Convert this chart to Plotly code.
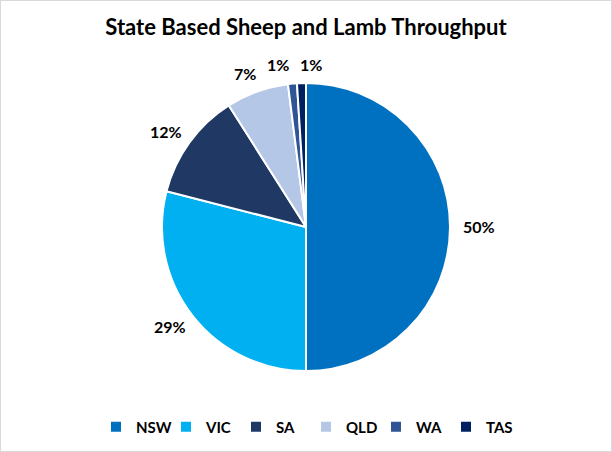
import math
import plotly.graph_objects as go

states = ["NSW", "VIC", "SA", "QLD", "WA", "TAS"]
shares = [50, 29, 12, 7, 1, 1]
colors = ["#0070C0", "#00B0F0", "#1F3864", "#B4C7E7", "#2F5597", "#002060"]

W, H = 612, 452
cx, cy, r = 306, 227, 144
FONT = "Lato, Open Sans, sans-serif"
LABEL_SIZE = 16

fig = go.Figure(go.Pie(
    labels=states,
    values=shares,
    sort=False,
    direction="clockwise",
    rotation=0,
    marker=dict(colors=colors, line=dict(color="white", width=2)),
    textinfo="none",
    domain=dict(x=[(cx - r) / W, (cx + r) / W], y=[1 - (cy + r) / H, 1 - (cy - r) / H]),
    hoverinfo="label+percent",
    showlegend=True,
))

# data labels placed outside each slice at its mid-angle (Excel "best fit" style)
total = sum(shares)
labels = []
cum = 0
for v in shares:
    theta = 2 * math.pi * (cum + v / 2) / total
    cum += v
    txt = f"{v}%"
    w = 8 * len(txt) + 7
    h = 12
    R0 = r + 13
    x = cx + R0 * math.sin(theta) + (w / 2) * math.sin(theta)
    y = cy - R0 * math.cos(theta) - (h / 2) * math.cos(theta)
    labels.append([x, y, w, h, txt])

# resolve overlaps horizontally
for _ in range(20):
    moved = False
    for i in range(len(labels)):
        for j in range(i + 1, len(labels)):
            a, b = labels[i], labels[j]
            need = (a[2] + b[2]) / 2 + 10
            if abs(a[1] - b[1]) < (a[3] + b[3]) / 2 and abs(a[0] - b[0]) < need:
                ov = need - abs(a[0] - b[0])
                if a[0] <= b[0]:
                    a[0] -= ov * 0.6; b[0] += ov * 0.4
                else:
                    a[0] += ov * 0.4; b[0] -= ov * 0.6
                moved = True
    if not moved:
        break

annotations = [
    dict(x=x / W, y=1 - y / H, xref="paper", yref="paper", text=f"<b>{t}</b>",
         showarrow=False, xanchor="center", yanchor="middle",
         font=dict(family=FONT, size=LABEL_SIZE, color="#000000"))
    for x, y, w, h, t in labels
]

fig.update_layout(
    width=W, height=H,
    margin=dict(l=0, r=0, t=0, b=0),
    paper_bgcolor="white",
    plot_bgcolor="white",
    title=dict(text="<b>State Based Sheep and Lamb Throughput</b>",
               x=0.5, xanchor="center", y=1 - 27 / H, yanchor="middle",
               font=dict(family=FONT, size=22, color="#000000")),
    legend=dict(orientation="h", x=0.5, xanchor="center", y=1 - 427 / H, yanchor="middle",
                font=dict(family=FONT, size=15, color="#000000", weight="bold"),
                itemwidth=30, traceorder="normal", entrywidth=25, entrywidthmode="pixels"),
    annotations=annotations,
    shapes=[dict(type="rect", xref="paper", yref="paper", x0=0, y0=0, x1=1, y1=1,
                 line=dict(color="#D9D9D9", width=2), fillcolor="rgba(0,0,0,0)")],
)

fig.write_html("out.html")
